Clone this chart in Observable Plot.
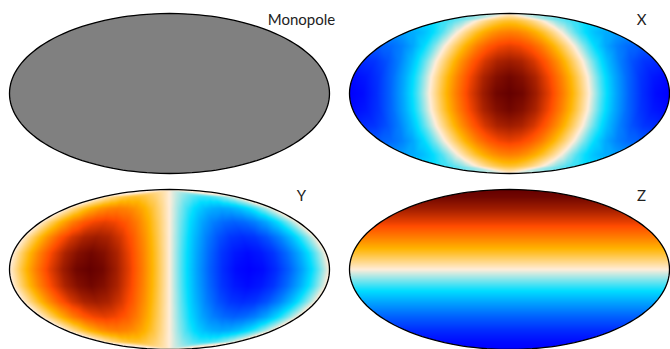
<!DOCTYPE html>
<html>
<head>
<meta charset="utf-8">
<script src="https://cdn.jsdelivr.net/npm/d3@7"></script>
<script src="https://cdn.jsdelivr.net/npm/@observablehq/plot@0.6"></script>
<style>
html,body{margin:0;padding:0;background:#fff;overflow:hidden}
#chart{position:relative;width:670px;height:349px;overflow:hidden}
#chart>div{position:absolute}
svg{display:block}
</style>
</head>
<body>
<div id="chart"></div>
<script>
const panelTitles = ["Monopole", "X", "Y", "Z"];
const monopoleGray = "#808080";

// Sample grid, degrees
const lats = [90, 75, 60, 45, 30, 15, 0, -15, -30, -45, -60, -75, -90];
const lons = [-180,-165,-150,-135,-120,-105,-90,-75,-60,-45,-30,-15,0,15,30,45,60,75,90,105,120,135,150,165,180];

// Colour bar
const colorStops = [-1, -0.336, 0, 0.328, 0.656, 1];
const colorRange = ["#0000ff", "#00ddff", "#ffedd9", "#ffb400", "#ff4b00", "#640000"];

const xValues = [
[0,0,0,0,0,0,0,0,0,0,0,0,0,0,0,0,0,0,0,0,0,0,0,0,0],
[-.26,-.25,-.22,-.18,-.13,-.07,0,.07,.13,.18,.22,.25,.26,.25,.22,.18,.13,.07,0,-.07,-.13,-.18,-.22,-.25,-.26],
[-.5,-.48,-.43,-.35,-.25,-.13,0,.13,.25,.35,.43,.48,.5,.48,.43,.35,.25,.13,0,-.13,-.25,-.35,-.43,-.48,-.5],
[-.71,-.68,-.61,-.5,-.35,-.18,0,.18,.35,.5,.61,.68,.71,.68,.61,.5,.35,.18,0,-.18,-.35,-.5,-.61,-.68,-.71],
[-.87,-.84,-.75,-.61,-.43,-.22,0,.22,.43,.61,.75,.84,.87,.84,.75,.61,.43,.22,0,-.22,-.43,-.61,-.75,-.84,-.87],
[-.97,-.93,-.84,-.68,-.48,-.25,0,.25,.48,.68,.84,.93,.97,.93,.84,.68,.48,.25,0,-.25,-.48,-.68,-.84,-.93,-.97],
[-1,-.97,-.87,-.71,-.5,-.26,0,.26,.5,.71,.87,.97,1,.97,.87,.71,.5,.26,0,-.26,-.5,-.71,-.87,-.97,-1],
[-.97,-.93,-.84,-.68,-.48,-.25,0,.25,.48,.68,.84,.93,.97,.93,.84,.68,.48,.25,0,-.25,-.48,-.68,-.84,-.93,-.97],
[-.87,-.84,-.75,-.61,-.43,-.22,0,.22,.43,.61,.75,.84,.87,.84,.75,.61,.43,.22,0,-.22,-.43,-.61,-.75,-.84,-.87],
[-.71,-.68,-.61,-.5,-.35,-.18,0,.18,.35,.5,.61,.68,.71,.68,.61,.5,.35,.18,0,-.18,-.35,-.5,-.61,-.68,-.71],
[-.5,-.48,-.43,-.35,-.25,-.13,0,.13,.25,.35,.43,.48,.5,.48,.43,.35,.25,.13,0,-.13,-.25,-.35,-.43,-.48,-.5],
[-.26,-.25,-.22,-.18,-.13,-.07,0,.07,.13,.18,.22,.25,.26,.25,.22,.18,.13,.07,0,-.07,-.13,-.18,-.22,-.25,-.26],
[0,0,0,0,0,0,0,0,0,0,0,0,0,0,0,0,0,0,0,0,0,0,0,0,0]
];
const yValues = [
[0,0,0,0,0,0,0,0,0,0,0,0,0,0,0,0,0,0,0,0,0,0,0,0,0],
[0,.07,.13,.18,.22,.25,.26,.25,.22,.18,.13,.07,0,-.07,-.13,-.18,-.22,-.25,-.26,-.25,-.22,-.18,-.13,-.07,0],
[0,.13,.25,.35,.43,.48,.5,.48,.43,.35,.25,.13,0,-.13,-.25,-.35,-.43,-.48,-.5,-.48,-.43,-.35,-.25,-.13,0],
[0,.18,.35,.5,.61,.68,.71,.68,.61,.5,.35,.18,0,-.18,-.35,-.5,-.61,-.68,-.71,-.68,-.61,-.5,-.35,-.18,0],
[0,.22,.43,.61,.75,.84,.87,.84,.75,.61,.43,.22,0,-.22,-.43,-.61,-.75,-.84,-.87,-.84,-.75,-.61,-.43,-.22,0],
[0,.25,.48,.68,.84,.93,.97,.93,.84,.68,.48,.25,0,-.25,-.48,-.68,-.84,-.93,-.97,-.93,-.84,-.68,-.48,-.25,0],
[0,.26,.5,.71,.87,.97,1,.97,.87,.71,.5,.26,0,-.26,-.5,-.71,-.87,-.97,-1,-.97,-.87,-.71,-.5,-.26,0],
[0,.25,.48,.68,.84,.93,.97,.93,.84,.68,.48,.25,0,-.25,-.48,-.68,-.84,-.93,-.97,-.93,-.84,-.68,-.48,-.25,0],
[0,.22,.43,.61,.75,.84,.87,.84,.75,.61,.43,.22,0,-.22,-.43,-.61,-.75,-.84,-.87,-.84,-.75,-.61,-.43,-.22,0],
[0,.18,.35,.5,.61,.68,.71,.68,.61,.5,.35,.18,0,-.18,-.35,-.5,-.61,-.68,-.71,-.68,-.61,-.5,-.35,-.18,0],
[0,.13,.25,.35,.43,.48,.5,.48,.43,.35,.25,.13,0,-.13,-.25,-.35,-.43,-.48,-.5,-.48,-.43,-.35,-.25,-.13,0],
[0,.07,.13,.18,.22,.25,.26,.25,.22,.18,.13,.07,0,-.07,-.13,-.18,-.22,-.25,-.26,-.25,-.22,-.18,-.13,-.07,0],
[0,0,0,0,0,0,0,0,0,0,0,0,0,0,0,0,0,0,0,0,0,0,0,0,0]
];
// The Z map only changes with latitude
const zByLat = [1, .97, .87, .71, .5, .26, 0, -.26, -.5, -.71, -.87, -.97, -1];

const cells = (valueAt) => lats.flatMap((lat, i) => lons.map((lon, j) => ({lon, lat, v: valueAt(i, j)})));

// Mollweide projection
function mollweideRaw(lambda, phi) {
  let t;
  if (Math.abs(phi) >= Math.PI / 2 - 1e-9) t = Math.sign(phi) * Math.PI / 2;
  else {
    const target = Math.PI * Math.sin(phi);
    t = phi;
    for (let i = 0; i < 40; i++) {
      const d = (t + Math.sin(t) - target) / (1 + Math.cos(t));
      t -= d;
      if (Math.abs(d) < 1e-9) break;
    }
    t /= 2;
  }
  return [(2 * Math.SQRT2 / Math.PI) * lambda * Math.cos(t), Math.SQRT2 * Math.sin(t)];
}
const mollweide = () => d3.geoProjection(mollweideRaw)
  .precision(0.05)
  .fitExtent([[9, 13], [329, 173]], {type: "Sphere"});

function panel(title, rows) {
  const marks = [];
  if (rows) {
    marks.push(Plot.raster(rows, {
      x: "lon", y: "lat", fill: "v",
      interpolate: "barycentric", clip: "sphere"
    }));
  }
  marks.push(Plot.sphere({stroke: "#000", strokeWidth: 1.3, fill: rows ? "none" : monopoleGray}));
  marks.push(Plot.text([title], {
    frameAnchor: "top-left", dx: 301, dy: 20,
    textAnchor: "middle", lineAnchor: "middle",
    fontSize: 15, fill: "#222"
  }));
  return Plot.plot({
    width: 330, height: 174,
    margin: 0,
    style: {fontFamily: "Lato, 'Open Sans', sans-serif", background: "transparent", overflow: "visible"},
    projection: {type: mollweide},
    color: {type: "linear", domain: colorStops, range: colorRange, interpolate: "rgb", clamp: true},
    marks
  });
}

const layout = [
  [panelTitles[0], null, 0, 0],
  [panelTitles[1], cells((i, j) => xValues[i][j]), 340, 0],
  [panelTitles[2], cells((i, j) => yValues[i][j]), 0, 176],
  [panelTitles[3], cells((i) => zByLat[i]), 340, 176]
];
const root = document.getElementById("chart");
for (const [title, rows, left, top] of layout) {
  const holder = document.createElement("div");
  holder.style.left = left + "px";
  holder.style.top = top + "px";
  holder.appendChild(panel(title, rows));
  root.appendChild(holder);
}
</script>
</body>
</html>
